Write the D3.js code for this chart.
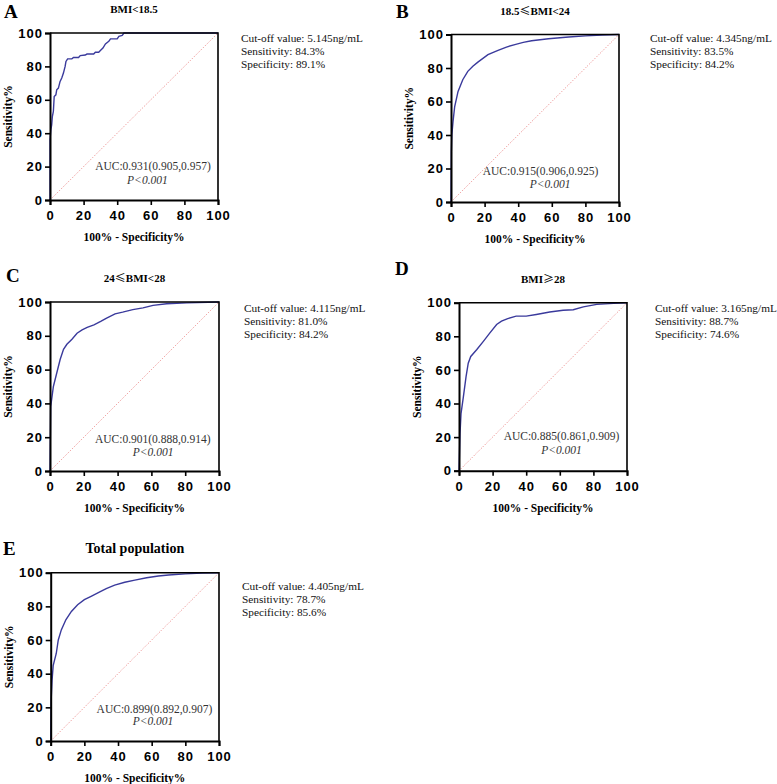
<!DOCTYPE html>
<meta charset="utf-8">
<style>
body { margin: 0; background: #fff; }
svg text { font-family: "Liberation Serif", "Times New Roman", serif; }
.tick text { font-family: "Liberation Sans", Arial, sans-serif; font-weight: bold; font-size: 13px; letter-spacing: 1px; fill: #000; }
.title { font-weight: bold; font-size: 11px; text-anchor: middle; }
.sym { font-family: "Noto Sans CJK SC", "Liberation Serif", serif; font-weight: normal; }
.letter { font-weight: bold; font-size: 19px; }
.axtitle { font-weight: bold; font-size: 11.5px; text-anchor: middle; }
.info { font-size: 11.3px; fill: #111; }
.auc { font-size: 11.5px; fill: #333; }
</style>
<body>
<div id="chart"></div>
<script src="https://cdn.jsdelivr.net/npm/d3@7"></script>
<script>

// values
var tickValues = [0, 20, 40, 60, 80, 100];
var panelLetters = ["A", "B", "C", "D", "E"];
// title parts: [before, symbol, after]
var panelTitles = [["BMI<18.5", "", ""], ["18.5", "\u2264", "BMI<24"], ["24", "\u2264", "BMI<28"], ["BMI", "\u2265", "28"], ["Total population", "", ""]];
var cutoffs = ["5.145", "4.345", "4.115", "3.165", "4.405"];
var sensitivities = ["84.3", "83.5", "81.0", "88.7", "78.7"];
var specificities = ["89.1", "84.2", "84.2", "74.6", "85.6"];
var aucLabels = ["0.931(0.905,0.957)", "0.915(0.906,0.925)", "0.901(0.888,0.914)", "0.885(0.861,0.909)", "0.899(0.892,0.907)"];

// ROC curves: [100% - specificity, sensitivity]
var rocA = [[0,0],[0,36],[0.5,42],[1,45],[1.4,50],[2,53],[2.5,62],[3.5,63],[4,66],[5,67],[6,71],[7,73],[8,76],[9,80],[9.5,83],[10.5,84.5],[13,84.5],[14,85.3],[17,85.3],[18,86.5],[21,86.8],[22,87.4],[26,87.4],[27,88.5],[29,88.5],[30,89.5],[31.5,91],[33,93.5],[35,95],[36,96.5],[40,96.5],[41,98],[43,98.5],[44,100],[100,100]];
var rocB = [[0,0],[0.2,30],[0.5,40],[1.2,48],[2.2,57],[4.2,66],[7,73],[10,78],[13,81],[16,83.5],[22,88],[28,90.5],[33,92.5],[38,94],[43,95.3],[48,96.3],[58,97.5],[70,98.5],[80,99.2],[90,99.7],[100,100]];
var rocC = [[0,0],[0.4,38],[2,50],[4,58],[6,66],[8,72],[10,75],[13,78],[16,81.5],[19,83.5],[22,85],[26,86.5],[30,88.5],[33.5,90.5],[38.5,93],[43,94],[49,95.5],[55,96.5],[61,98],[69,99],[81,99.5],[100,100]];
var rocD = [[0,0],[0.6,22],[1.2,34],[2.6,44],[4.2,56],[5.5,64],[7,68],[10.5,72],[14.5,77],[18.4,82],[22.4,87],[25.3,89],[29,90.5],[34,92],[40,92],[46,93],[54,94.5],[62,95.5],[68,95.8],[74,97.5],[82,99],[92,99.6],[100,100]];
var rocE = [[0,0],[0.3,25],[0.8,36],[1.5,45],[3.3,52],[4.5,60],[6.3,66],[9,72],[12.3,77],[16,81],[20,84],[24,86],[28,88],[33,90.5],[38,92.6],[44,94.3],[50,95.6],[57,97],[64,98],[70,98.6],[80,99.3],[90,99.8],[100,100]];
var rocCurves = [rocA, rocB, rocC, rocD, rocE];

// layout of each panel (pixels)
var layout = [
  {left: 50,  top: 33,  w: 168, h: 167, letter: [4, 18],    info: [241, 42],  auc: [0.957, 0.18], p: [0.58, 0.104]},
  {left: 451, top: 34.5, w: 168, h: 167.5, letter: [396, 18], info: [650, 42],  auc: [0.877, 0.161], p: [0.59, 0.091]},
  {left: 50,  top: 302, w: 169, h: 169, letter: [6, 282],   info: [244, 312], auc: [0.95, 0.164], p: [0.61, 0.095]},
  {left: 459, top: 302.7, w: 168, h: 168, letter: [395, 275], info: [655, 312], auc: [0.954, 0.183], p: [0.61, 0.107]},
  {left: 50.7, top: 572.7, w: 168.3, h: 168.3, letter: [3, 555], info: [242, 590], auc: [0.96, 0.168], p: [0.608, 0.101]}
];

var svg = d3.select("#chart").append("svg")
  .attr("width", 777)
  .attr("height", 784);

layout.forEach(function(L, i) {
  var x = d3.scaleLinear().domain([0, 100]).range([0, L.w]);
  var y = d3.scaleLinear().domain([0, 100]).range([L.h, 0]);

  var g = svg.append("g").attr("transform", "translate(" + L.left + "," + L.top + ")");

  // diagonal reference
  g.append("line")
    .attr("x1", x(0)).attr("y1", y(0))
    .attr("x2", x(100)).attr("y2", y(100))
    .attr("stroke", "#e87878")
    .attr("stroke-width", 0.9)
    .attr("stroke-dasharray", "1,1.6");

  // roc curve
  var line = d3.line().x(function(d) { return x(d[0]); }).y(function(d) { return y(d[1]); });
  g.append("path")
    .datum(rocCurves[i])
    .attr("d", line)
    .attr("fill", "none")
    .attr("stroke", "#3a3a9c")
    .attr("stroke-width", 1.4);

  // frame top/right
  g.append("path")
    .attr("d", "M" + x(0) + "," + y(100) + "H" + x(100) + "V" + y(0))
    .attr("fill", "none")
    .attr("stroke", "#000")
    .attr("stroke-width", 1.6);

  var xAxis = g.append("g")
    .attr("transform", "translate(0," + L.h + ")")
    .call(d3.axisBottom(x).tickValues(tickValues).tickSize(5).tickPadding(6).tickFormat(d3.format("d")));
  var yAxis = g.append("g")
    .call(d3.axisLeft(y).tickValues(tickValues).tickSize(5).tickPadding(2).tickFormat(d3.format("d")));
  [xAxis, yAxis].forEach(function(a) {
    a.select(".domain").attr("stroke", "#000").attr("stroke-width", 2);
    a.selectAll(".tick line").attr("stroke", "#000").attr("stroke-width", 1.6);
  });

  // titles
  var t = g.append("text")
    .attr("class", "title")
    .attr("x", L.w / 2)
    .attr("y", -20)
    .style("font-size", i == 4 ? "14px" : "11px");
  t.append("tspan").text(panelTitles[i][0]);
  if (panelTitles[i][1]) t.append("tspan").attr("class", "sym").text(panelTitles[i][1]);
  if (panelTitles[i][2]) t.append("tspan").text(panelTitles[i][2]);

  g.append("text")
    .attr("class", "axtitle")
    .attr("x", L.w / 2)
    .attr("y", L.h + 41)
    .text("100% - Specificity%");

  g.append("text")
    .attr("class", "axtitle")
    .attr("transform", "translate(-42," + (L.h / 2) + ") rotate(-90)")
    .attr("dy", "0.35em")
    .text("Sensitivity%");

  // auc annotation
  g.append("text")
    .attr("class", "auc")
    .attr("x", L.w * L.auc[0])
    .attr("y", L.h * (1 - L.auc[1]))
    .attr("text-anchor", "end")
    .text("AUC:" + aucLabels[i]);
  g.append("text")
    .attr("class", "auc")
    .attr("x", L.w * L.p[0])
    .attr("y", L.h * (1 - L.p[1]) + 1)
    .attr("text-anchor", "middle")
    .style("font-style", "italic")
    .text("P<0.001");

  // panel letter
  svg.append("text")
    .attr("class", "letter")
    .attr("x", L.letter[0])
    .attr("y", L.letter[1])
    .text(panelLetters[i]);

  // cut-off info
  var info = svg.append("text")
    .attr("class", "info")
    .attr("x", L.info[0])
    .attr("y", L.info[1]);
  ["Cut-off value: " + cutoffs[i] + "ng/mL", "Sensitivity: " + sensitivities[i] + "%", "Specificity: " + specificities[i] + "%"]
    .forEach(function(s, k) {
      info.append("tspan").attr("x", L.info[0]).attr("dy", k == 0 ? 0 : 13).text(s);
    });
});

</script>
